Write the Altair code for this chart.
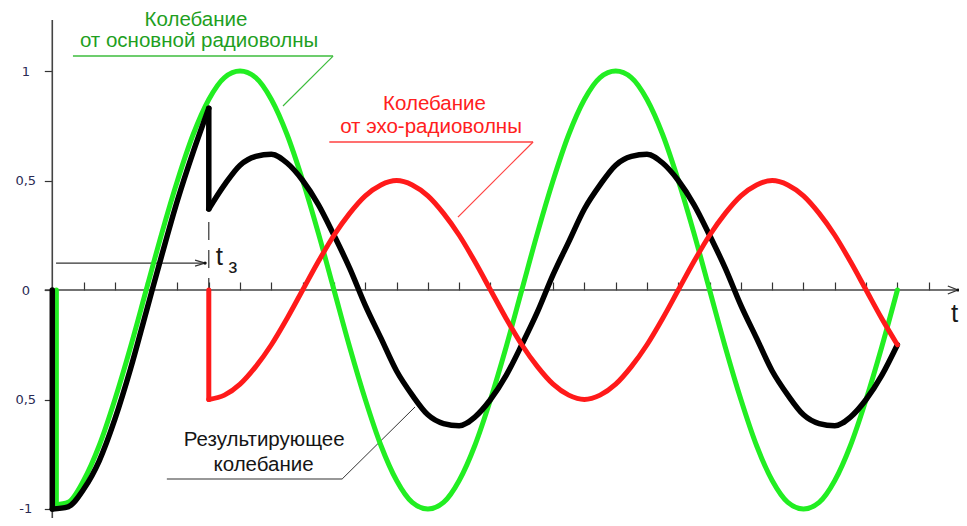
import altair as alt
import pandas as pd

# ---------------- data ----------------
# t in tick units of the time axis, v in amplitude units
green_t = [0.13, 0.13, 0.5, 1, 1.5, 2, 2.5, 3, 3.5, 4, 4.5, 5, 5.5, 6,
           6.5, 7, 7.5, 8, 8.5, 9, 9.5, 10, 10.5, 11, 11.5, 12,
           12.5, 13, 13.5, 14, 14.5, 15, 15.5, 16, 16.5, 17, 17.5, 18,
           18.5, 19, 19.5, 20, 20.5, 21, 21.5, 22, 22.5, 23, 23.5, 24,
           24.5, 25, 25.5, 26, 26.5, 27]
green_v = [0, -0.98, -0.97, -0.87, -0.71, -0.5, -0.26, 0, 0.26, 0.5, 0.71, 0.87, 0.97, 1,
           0.97, 0.87, 0.71, 0.5, 0.26, 0, -0.26, -0.5, -0.71, -0.87, -0.97, -1,
           -0.97, -0.87, -0.71, -0.5, -0.26, 0, 0.26, 0.5, 0.71, 0.87, 0.97, 1,
           0.97, 0.87, 0.71, 0.5, 0.26, 0, -0.26, -0.5, -0.71, -0.87, -0.97, -1,
           -0.97, -0.87, -0.71, -0.5, -0.26, 0]

red_t = [5, 5, 5.5, 6, 6.5, 7, 7.5, 8, 8.5, 9, 9.5, 10, 10.5, 11,
         11.5, 12, 12.5, 13, 13.5, 14, 14.5, 15, 15.5, 16, 16.5, 17,
         17.5, 18, 18.5, 19, 19.5, 20, 20.5, 21, 21.5, 22, 22.5, 23,
         23.5, 24, 24.5, 25, 25.5, 26, 26.5, 27]
red_v = [0, -0.5, -0.48, -0.43, -0.35, -0.25, -0.13, 0, 0.13, 0.25, 0.35, 0.43, 0.48, 0.5,
         0.48, 0.43, 0.35, 0.25, 0.13, 0, -0.13, -0.25, -0.35, -0.43, -0.48, -0.5,
         -0.48, -0.43, -0.35, -0.25, -0.13, 0, 0.13, 0.25, 0.35, 0.43, 0.48, 0.5,
         0.48, 0.43, 0.35, 0.25, 0.13, 0, -0.13, -0.25]

black_t = [0, 0, 0.5, 1, 1.5, 2, 2.5, 3, 3.5, 4, 4.5, 5,
           5, 5.5, 6, 6.5, 7, 7.5, 8, 8.5, 9, 9.5, 10, 10.5,
           11, 11.5, 12, 12.5, 13, 13.5, 14, 14.5, 15, 15.5, 16, 16.5,
           17, 17.5, 18, 18.5, 19, 19.5, 20, 20.5, 21, 21.5, 22, 22.5,
           23, 23.5, 24, 24.5, 25, 25.5, 26, 26.5, 27]
black_v = [0, -1, -0.99, -0.91, -0.78, -0.59, -0.36, -0.10, 0.16, 0.41, 0.63, 0.83,
           0.37, 0.48, 0.57, 0.61, 0.62, 0.58, 0.5, 0.39, 0.25, 0.1, -0.07, -0.22,
           -0.37, -0.48, -0.57, -0.61, -0.62, -0.58, -0.5, -0.39, -0.25, -0.1, 0.07, 0.22,
           0.37, 0.48, 0.57, 0.61, 0.62, 0.58, 0.5, 0.39, 0.25, 0.1, -0.07, -0.22,
           -0.37, -0.48, -0.57, -0.61, -0.62, -0.58, -0.5, -0.39, -0.25]

x_ticks = [1, 2, 3, 4, 5, 6, 7, 8, 9, 10, 11, 12, 13, 14, 15, 16, 17, 18, 19, 20,
           21, 22, 23, 24, 25, 26, 27, 28]
y_ticks = [1, 0.5, 0, -0.5, -1]

# annotation texts
texts_center = ["Колебание", "от основной радиоволны",
                "Колебание", "от эхо-радиоволны",
                "Результирующее", "колебание"]
texts_center_t = [4.59, 4.69, 12.21, 12.10, 6.77, 6.75]
texts_center_v = [1.205, 1.110, 0.822, 0.717, -0.712, -0.826]
texts_center_c = ["#1f9f1f", "#1f9f1f", "#ff2020", "#ff2020", "#151515", "#151515"]

texts_left = ["t", "з", "t"]
texts_left_t = [5.22, 5.62, 28.71]
texts_left_v = [0.114, 0.076, -0.146]
texts_left_s = [26, 20, 26]

# callout / axis line segments (t, v) -> (t2, v2)
seg_x = [0.66, 8.97, 8.85, 15.36, 3.66, 9.26, 0, -0.24, 0.12]
seg_y = [1.068, 1.068, 0.676, 0.676, -0.863, -0.863, 1.233, 0, 0.123]
seg_x2 = [8.97, 7.37, 15.36, 12.96, 9.26, 11.59, 0, 28.93, 4.88]
seg_y2 = [1.068, 0.840, 0.676, 0.333, -0.863, -0.534, -1.06, 0, 0.123]
seg_c = ["#3cbc3c", "#3cbc3c", "#ff4040", "#ff4040", "#333333", "#333333",
         "#444444", "#444444", "#333333"]
seg_w = [1.5, 1.2, 1.5, 1.2, 1.2, 1.0, 1.6, 1.6, 1.2]

# ---------------- chart ----------------
XS = alt.Scale(domain=[-1.415, 28.968], nice=False, zero=False)
YS = alt.Scale(domain=[-1.0411, 1.2877], nice=False, zero=False)

AX_X = alt.Axis(orient="top", offset=-282, values=x_ticks, labels=False, domain=False,
                grid=False, ticks=True, tickSize=8, tickColor="#333333", tickWidth=1.2,
                title=None)
AX_Y = alt.Axis(orient="left", offset=-44.3, values=y_ticks, domain=False, grid=False,
                tickSize=8, tickColor="#333333", tickWidth=1.2, labelAlign="center",
                labelPadding=19, labelFont="DejaVu Sans", labelFontSize=13,
                labelColor="#2b2b55",
                labelExpr="datum.value == 1 ? '1' : datum.value == 0 ? '0' : datum.value == -1 ? '-1' : '0,5'",
                title=None)


def X(f="t"):
    return alt.X(f"{f}:Q", scale=XS, axis=AX_X)


def Y(f="v"):
    return alt.Y(f"{f}:Q", scale=YS, axis=AX_Y)


def split_pieces(t, v):
    """Split a series into runs of increasing t; jumps (equal t) become own pieces."""
    rows = []
    piece = 0
    cur = [0]
    pieces = []
    for k in range(len(t) - 1):
        if t[k + 1] == t[k]:
            if len(cur) > 1:
                pieces.append(cur)
            pieces.append([k, k + 1])
            cur = [k + 1]
        else:
            cur.append(k + 1)
    if len(cur) > 1:
        pieces.append(cur)
    for piece, idx in enumerate(pieces):
        for o, k in enumerate(idx):
            rows.append({"t": t[k], "v": v[k], "p": piece, "o": o})
    return pd.DataFrame(rows)


def curve(t, v, color, width):
    df = split_pieces(t, v)
    return alt.Chart(df).mark_line(color=color, strokeWidth=width, interpolate="monotone",
                                   strokeCap="round", strokeJoin="round").encode(
        x=X(), y=Y(), detail="p:N", order="o:Q")


seg_df = pd.DataFrame({"t": seg_x, "v": seg_y, "t2": seg_x2, "v2": seg_y2,
                       "c": seg_c, "w": seg_w})
segments = alt.Chart(seg_df).mark_rule().encode(
    x=X(), y=Y(), x2="t2:Q", y2="v2:Q",
    color=alt.Color("c:N", scale=None),
    strokeWidth=alt.StrokeWidth("w:Q", scale=None))

dash_df = pd.DataFrame({"t": [5], "v": [0.31], "t2": [5], "v2": [0]})
dashed = alt.Chart(dash_df).mark_rule(color="#333333", strokeWidth=1.2,
                                      strokeDash=[18, 10]).encode(
    x=X(), y=Y(), x2="t2:Q", y2="v2:Q")

tip_df = pd.DataFrame({"t": [28.93], "v": [0]})
axis_arrow = alt.Chart(tip_df).mark_point(
    shape="M-2,-0.8L0,0L-2,0.8", size=100, filled=False, color="#333333",
    strokeWidth=1.3, opacity=1).encode(x=X(), y=Y())
t3_df = pd.DataFrame({"t": [4.88], "v": [0.123]})
t3_arrow = alt.Chart(t3_df).mark_point(
    shape="M-2,-0.6L0,0L-2,0.6", size=100, filled=False, color="#333333",
    strokeWidth=1.2, opacity=1).encode(x=X(), y=Y())
dots_df = pd.DataFrame({"t": [28.93, 4.88], "v": [0, 0.123]})
dots = alt.Chart(dots_df).mark_point(shape="circle", size=10, filled=True,
                                     color="#111111", opacity=1).encode(x=X(), y=Y())

tc_df = pd.DataFrame({"txt": texts_center, "t": texts_center_t,
                      "v": texts_center_v, "c": texts_center_c})
text_c = alt.Chart(tc_df).mark_text(font="Liberation Sans", fontSize=20.5,
                                    align="center", baseline="alphabetic").encode(
    x=X(), y=Y(), text="txt:N", color=alt.Color("c:N", scale=None))

tl_df = pd.DataFrame({"txt": texts_left, "t": texts_left_t, "v": texts_left_v,
                      "s": texts_left_s})
text_l = alt.Chart(tl_df).mark_text(font="Liberation Sans", align="left",
                                    baseline="alphabetic", color="#1a1a1a").encode(
    x=X(), y=Y(), text="txt:N", size=alt.Size("s:Q", scale=None))

chart = alt.layer(
    segments,
    dashed,
    curve(green_t, green_v, "#22ee22", 5),
    curve(black_t, black_v, "#000000", 5.5),
    curve(red_t, red_v, "#ff1a1a", 5),
    axis_arrow, t3_arrow, dots,
    text_c, text_l,
).properties(
    width=951, height=510,
    autosize=alt.AutoSizeParams(type="none"),
    padding={"left": 0, "top": 0, "right": 0, "bottom": 0},
    background="white",
).configure_view(stroke=None)

chart.save("out.html", embed_options={"renderer": "svg", "actions": False})
